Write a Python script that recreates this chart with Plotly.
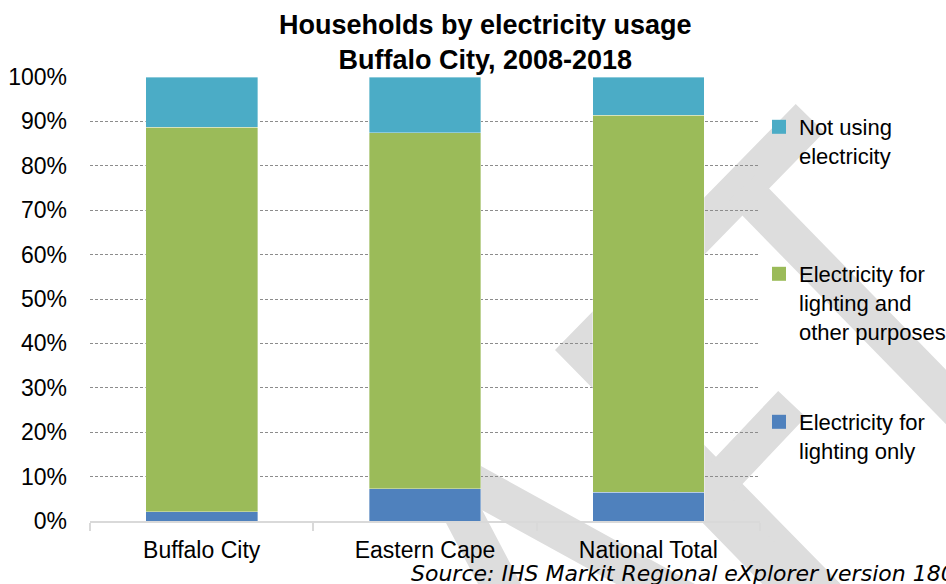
import plotly.graph_objects as go

# ---- data (percent of households) ----
categories = ["Buffalo City", "Eastern Cape", "National Total"]
lighting_only = [2.1, 7.3, 6.5]
lighting_other = [86.6, 80.1, 84.9]
not_using = [11.3, 12.6, 8.6]
series_names = ["Electricity for<br>lighting only",
                "Electricity for<br>lighting and<br>other purposes",
                "Not using<br>electricity"]
series_colors = ["#4f81bd", "#9bbb59", "#4bacc6"]
y_ticks = [0, 10, 20, 30, 40, 50, 60, 70, 80, 90, 100]
y_ticktext = [f"{v}%" for v in y_ticks]

W, H = 946, 584
ML, MR, MT, MB = 90, 186, 77, 63
PW, PH = W - ML - MR, H - MT - MB

def px(x):
    return (x - ML) / PW

def py(y):
    return (H - MB - y) / PH

FONT = "Liberation Sans Narrow, Arial Narrow, Liberation Sans, Arial, sans-serif"
FS = 23
LFS = 22

fig = go.Figure()
legend_ids = ["legend3", "legend2", "legend"]
for vals, name, col in zip([lighting_only, lighting_other, not_using],
                           series_names, series_colors):
    fig.add_trace(go.Bar(x=categories, y=vals, name=name, showlegend=False,
                         marker=dict(color=col, line=dict(width=0.6, color="rgba(255,255,255,0.6)"))))
# legend entries (square swatches)
for name, col, lg in zip(series_names, series_colors, legend_ids):
    fig.add_trace(go.Scatter(x=[None], y=[None], mode="markers", name=name,
                             marker=dict(symbol="square", size=14, color=col),
                             legend=lg, showlegend=True))

# decorative watermark (grey chevrons)
def path(points):
    return "M " + " L ".join(f"{px(x):.5f},{py(y):.5f}" for x, y in points)

wm = "#dddddd"
chevrons = [
    ([(810, 118), (583, 350), (850, 622)], 40),
    ([(742, 188), (985, 437)], 38),
    ([(792, 404), (704, 497), (820, 616)], 38),
    ([(510, 604), (436, 463), (690, 603)], 38),
]
shapes = []
for pts, w in chevrons:
    shapes.append(dict(type="path", xref="paper", yref="paper", path=path(pts),
                       line=dict(color=wm, width=w), fillcolor="rgba(0,0,0,0)",
                       layer="below"))

leg_common = dict(font=dict(family=FONT, size=LFS, color="#000000"),
                  bgcolor="rgba(0,0,0,0)", valign="top", xanchor="left",
                  yanchor="top", itemwidth=30, x=px(759))

fig.update_layout(
    width=W, height=H,
    margin=dict(l=ML, r=MR, t=MT, b=MB, pad=0, autoexpand=False),
    paper_bgcolor="white", plot_bgcolor="white",
    barmode="stack", bargap=0.5,
    showlegend=True,
    shapes=shapes,
    font=dict(family=FONT, size=FS, color="#000000"),
    legend=dict(**leg_common, y=py(106)),
    legend2=dict(**leg_common, y=py(253)),
    legend3=dict(**leg_common, y=py(401)),
    xaxis=dict(showline=True, linecolor="#d9d9d9", linewidth=1.5,
               ticks="outside", tickson="boundaries", ticklen=8,
               tickcolor="#d9d9d9", tickwidth=1.5, showgrid=False,
               ticklabelstandoff=8, automargin=False,
               tickfont=dict(family=FONT, size=FS, color="#000000")),
    yaxis=dict(range=[0, 100], tickmode="array", tickvals=y_ticks, ticktext=y_ticktext,
               showgrid=True, gridcolor="#8c8c8c", griddash="3px,2px",
               gridwidth=1, zeroline=False, showline=False, ticks="",
               ticklabelstandoff=22, automargin=False,
               tickfont=dict(family=FONT, size=FS, color="#000000")),
    annotations=[
        dict(text="<b>Households by electricity usage<br>Buffalo City, 2008-2018</b>",
             xref="paper", yref="paper", x=px(485), y=py(43),
             xanchor="center", yanchor="middle", showarrow=False,
             font=dict(family=FONT, size=27, color="#000000")),
        dict(text="<i>Source: IHS Markit Regional eXplorer version 1803</i>",
             xref="paper", yref="paper", x=px(409), y=py(573),
             xanchor="left", yanchor="middle", showarrow=False,
             font=dict(family="DejaVu Sans, Verdana, sans-serif", size=22, color="#000000")),
    ],
)

fig.write_html("out.html")
